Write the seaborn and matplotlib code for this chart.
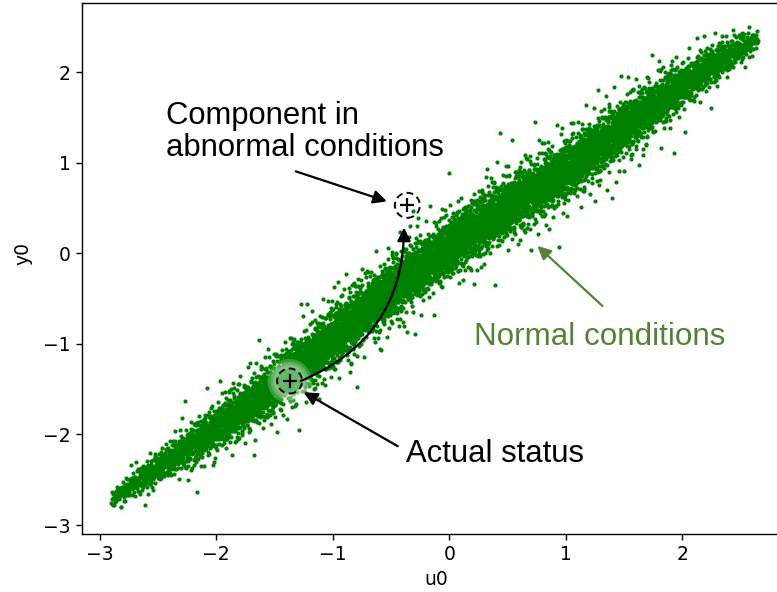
import numpy as np
import pandas as pd
import matplotlib
matplotlib.use("Agg")
import matplotlib.pyplot as plt
import seaborn as sns
from matplotlib.patches import Ellipse

# ---- data -----------------------------------------------------------------
# envelope of the "normal conditions" point cloud (u0 knots, band centre, band spread, relative density)
band_u0 = [-2.9, -2.5, -2.0, -1.5, -1.0, -0.5, 0.0, 0.5, 1.0, 1.5, 2.0, 2.4, 2.65]
band_y0 = [-2.72, -2.36, -1.93, -1.46, -0.92, -0.40, 0.08, 0.52, 0.92, 1.40, 1.86, 2.2, 2.38]
band_sd = [0.05, 0.08, 0.11, 0.13, 0.14, 0.14, 0.14, 0.14, 0.14, 0.13, 0.11, 0.08, 0.05]
band_outlier_sd = [0.10, 0.16, 0.22, 0.26, 0.27, 0.27, 0.27, 0.27, 0.27, 0.26, 0.22, 0.16, 0.10]
band_density = [0.15, 0.35, 0.6, 0.85, 1.0, 1.0, 1.0, 1.0, 0.95, 0.85, 0.65, 0.4, 0.15]
n_points = 9500
outlier_share = 0.12

actual_status = (-1.37, -1.41)
abnormal_status = (-0.36, 0.53)

x_ticks = [-3, -2, -1, 0, 1, 2]
y_ticks = [-3, -2, -1, 0, 1, 2]

# ---- fill the envelope with a deterministic low-discrepancy pattern -----------
def vdc(n, base):
    out = np.zeros(n)
    for i in range(n):
        k, f, r = i + 1, 1.0, 0.0
        while k > 0:
            f /= base
            r += f * (k % base)
            k //= base
        out[i] = r
    return out

grid = np.linspace(band_u0[0], band_u0[-1], 4000)
dens = np.interp(grid, band_u0, band_density)
cdf = np.cumsum(dens)
cdf = (cdf - cdf[0]) / (cdf[-1] - cdf[0])
u_a, u_b, u_c, u_d = (vdc(n_points, 2), vdc(n_points, 3),
                      vdc(n_points, 5), vdc(n_points, 7))
u0 = np.interp(u_a, cdf, grid)
z = np.sqrt(-2 * np.log(u_b)) * np.cos(2 * np.pi * u_c)
spread = np.where(u_d < outlier_share,
                  np.interp(u0, band_u0, band_outlier_sd),
                  np.interp(u0, band_u0, band_sd))
y0 = np.interp(u0, band_u0, band_y0) + z * spread
df = pd.DataFrame({"u0": u0, "y0": y0})

# ---- figure -------------------------------------------------------------------
fig = plt.figure(figsize=(7.77, 5.92), dpi=100)
ax = fig.add_axes([0.1055, 0.0980, 0.9124, 0.8963])
sns.scatterplot(data=df, x="u0", y="y0", s=9, color="green", linewidth=0,
                ax=ax, legend=False, zorder=1)
ax.set_xlim(-3.151, 2.93)
ax.set_ylim(-3.099, 2.76)
ax.set_xticks(x_ticks)
ax.set_yticks(y_ticks)
ax.tick_params(labelsize=13.5, length=4.5, width=1.0)
for s in ax.spines.values():
    s.set_linewidth(1.0)
ax.set_xlabel("u0", fontsize=13.5)
ax.set_ylabel("y0", fontsize=13.5)
ax.yaxis.set_label_coords(-0.0705, 0.528)

# pixel -> data conversion for round circles
ppx = ax.bbox.width / (ax.get_xlim()[1] - ax.get_xlim()[0])
ppy = ax.bbox.height / (ax.get_ylim()[1] - ax.get_ylim()[0])

def circ(xy, r, **kw):
    return Ellipse(xy, 2 * r / ppx, 2 * r / ppy, **kw)

# glow around the actual status
for r in [22, 19, 16]:
    ax.add_patch(circ(actual_status, r, facecolor="#e6f5e6", edgecolor="none",
                      alpha=0.25, zorder=2))
ax.add_patch(circ(actual_status, 12.5, facecolor="#4fae4f", edgecolor="none",
                  alpha=0.55, zorder=2))
for pt in [actual_status, abnormal_status]:
    ax.add_patch(circ(pt, 12.5, facecolor="none", edgecolor="black", lw=1.4,
                      linestyle=(0, (3.5, 2.2)), zorder=3))
ax.plot([actual_status[0], abnormal_status[0]], [actual_status[1], abnormal_status[1]],
        ls="none", marker="+", ms=10, mew=1.6, color="black", zorder=4)

fnt = dict(family=["Liberation Sans", "DejaVu Sans"], fontsize=22.3)
ax.text(-2.431, 1.424, "Component in", va="baseline", ha="left", color="black", **fnt)
ax.text(-2.431, 1.071, "abnormal conditions", va="baseline", ha="left", color="black", **fnt)
ax.text(-0.373, -2.307, "Actual status", va="baseline", ha="left", color="black", **fnt)
ax.text(0.21, -1.015, "Normal conditions", va="baseline", ha="left", color="#548235",
        family=["Liberation Sans", "DejaVu Sans"], fontsize=22.6)

ap = dict(arrowstyle="-|>", lw=1.6, color="black", mutation_scale=20,
          shrinkA=0, shrinkB=0)
ax.annotate("", xy=(-0.536, 0.574), xytext=(-1.317, 0.905), arrowprops=ap, zorder=5)
ax.annotate("", xy=(-1.248, -1.534), xytext=(-0.442, -2.13), arrowprops=ap, zorder=5)
ax.annotate("", xy=(0.756, 0.081), xytext=(1.314, -0.582),
            arrowprops=dict(ap, color="#548235"), zorder=5)
ax.annotate("", xy=(-0.388, 0.284), xytext=(-1.274, -1.409),
            arrowprops=dict(ap, connectionstyle="arc3,rad=0.33"), zorder=5)

fig.savefig("out.png", dpi=100)
